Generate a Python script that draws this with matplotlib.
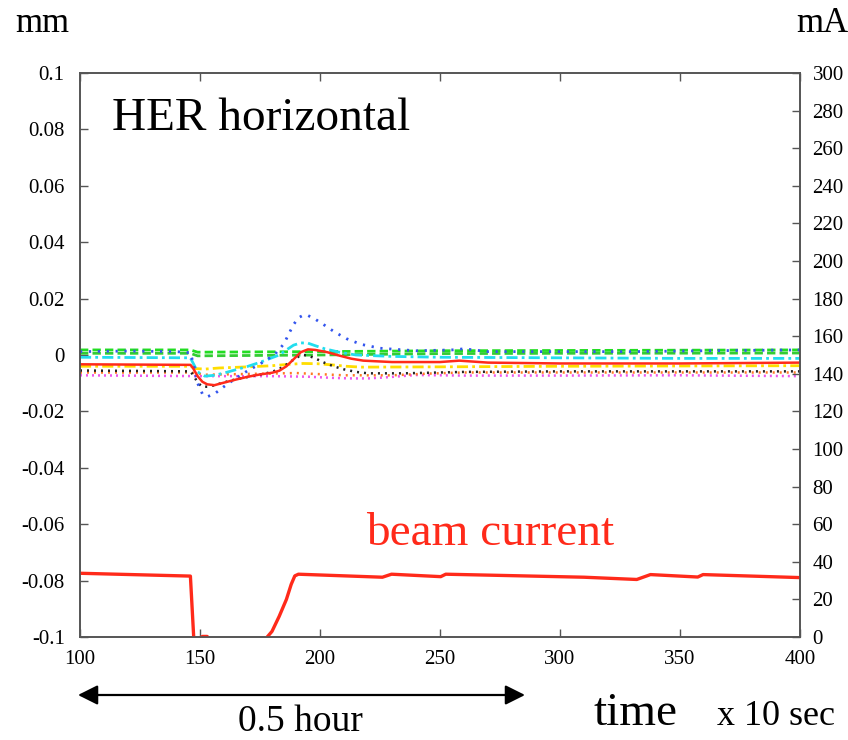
import matplotlib
matplotlib.use('Agg')
import matplotlib.pyplot as plt

plt.rcParams['font.family'] = ['Liberation Serif', 'DejaVu Serif']

# orbit traces, time in units of 10 sec, position in mm
blue_t = [100, 120, 140, 146, 147.5, 149, 151, 153, 156, 160, 165, 170, 175, 179, 182, 185, 187, 189, 191, 193, 195, 198, 202, 206, 211, 217, 225, 240, 255, 260, 270, 300, 330, 360, 400]
blue_y = [0.0012, 0.0014, 0.0012, 0.0008, -0.004, -0.010, -0.0138, -0.0148, -0.0138, -0.0112, -0.0082, -0.0055, -0.0032, -0.001, 0.001, 0.004, 0.0075, 0.0108, 0.0132, 0.0141, 0.014, 0.0127, 0.0105, 0.0082, 0.0058, 0.0038, 0.0024, 0.0015, 0.0018, 0.0022, 0.0012, 0.0012, 0.0012, 0.0015, 0.0018]

green1_t = [100, 146, 149, 200, 250, 300, 400]
green1_y = [0.0018, 0.0018, 0.001, 0.0012, 0.0015, 0.0016, 0.0018]
green2_t = [100, 146, 149, 200, 250, 300, 400]
green2_y = [0.0006, 0.0006, -0.0003, 0.0, 0.0005, 0.0006, 0.0007]

cyan_t = [100, 146, 147.5, 149, 152, 156, 160, 165, 170, 175, 179, 183, 186, 189, 192, 195, 198, 202, 208, 215, 230, 250, 300, 350, 400]
cyan_y = [-0.0008, -0.001, -0.0035, -0.006, -0.0075, -0.0072, -0.0064, -0.0052, -0.004, -0.0026, -0.0013, 0.0, 0.0018, 0.0035, 0.0043, 0.0042, 0.0033, 0.0022, 0.001, 0.0, -0.0005, -0.0008, -0.001, -0.0012, -0.0012]

red_t = [100, 146, 147, 149, 151, 153, 156, 160, 165, 170, 175, 180, 183, 186, 189, 192, 195, 198, 203, 208, 213, 218, 230, 250, 258, 270, 300, 350, 400]
red_y = [-0.0033, -0.0035, -0.0045, -0.0075, -0.0095, -0.0104, -0.0107, -0.0098, -0.0087, -0.0077, -0.0069, -0.0063, -0.0056, -0.004, -0.0015, 0.001, 0.002, 0.0018, 0.001, -0.0002, -0.0013, -0.002, -0.0025, -0.0025, -0.002, -0.0027, -0.003, -0.003, -0.0027]

yellow_t = [100, 146, 148, 152, 158, 170, 180, 187, 193, 199, 205, 211, 217, 250, 300, 400]
yellow_y = [-0.004, -0.004, -0.0048, -0.005, -0.0046, -0.0042, -0.0038, -0.0033, -0.003, -0.0031, -0.0035, -0.004, -0.0043, -0.0042, -0.004, -0.0038]

black_t = [100, 146, 147.5, 149, 151, 154, 158, 163, 168, 173, 178, 182, 185, 188, 191, 193, 195, 198, 202, 206, 210, 215, 220, 235, 260, 300, 350, 400]
black_y = [-0.0055, -0.0058, -0.0075, -0.0098, -0.0113, -0.0112, -0.0102, -0.009, -0.0081, -0.0073, -0.0064, -0.0054, -0.004, -0.0022, -0.0006, 0.0, -0.0002, -0.0012, -0.0028, -0.0041, -0.0051, -0.006, -0.0065, -0.0065, -0.006, -0.0058, -0.0058, -0.0058]

orange_t = [100, 146, 152, 165, 190, 200, 210, 230, 245, 260, 300, 400]
orange_y = [-0.0062, -0.0062, -0.007, -0.0068, -0.0064, -0.0068, -0.0072, -0.0072, -0.0066, -0.0062, -0.0062, -0.0062]

magenta_t = [100, 150, 180, 195, 205, 212, 220, 228, 240, 260, 300, 350, 400]
magenta_y = [-0.0072, -0.0075, -0.0075, -0.0077, -0.0081, -0.0083, -0.0083, -0.0079, -0.0071, -0.0073, -0.0073, -0.0072, -0.0075]

# beam current in mA
beam_t = [100, 146, 147.5, 151, 153, 154, 177, 178, 180, 183, 186, 188, 189.5, 191, 226, 229.8, 250.3, 252.4, 310, 332, 337.7, 357.4, 359.6, 400]
beam_i = [33.9, 32.4, -3, 0.3, 0.3, -3, -3, 0, 3, 11, 20, 28, 32.5, 33.4, 31.8, 33.4, 32.1, 33.4, 31.8, 30.6, 33.2, 31.9, 33.2, 31.6]

xticks = [100, 150, 200, 250, 300, 350, 400]
yticks = [-0.1, -0.08, -0.06, -0.04, -0.02, 0, 0.02, 0.04, 0.06, 0.08, 0.1]
yticklabels = ['-0.1', '-0.08', '-0.06', '-0.04', '-0.02', '0', '0.02', '0.04', '0.06', '0.08', '0.1']
rticks = list(range(0, 301, 20))

fig = plt.figure(figsize=(8.48, 7.4), dpi=100)
ax = fig.add_axes([80 / 848, 103 / 740, 720 / 848, 564 / 740])
ax2 = ax.twinx()

ax.plot(green1_t, green1_y, color='#22dd22', lw=2, dashes=(3, 1.5))
ax.plot(green2_t, green2_y, color='#33cc33', lw=2, dashes=(3, 1.5))
ax.plot(magenta_t, magenta_y, color='#ee55ee', lw=1.8, dashes=(0.8, 1.6))
ax.plot(orange_t, orange_y, color='#ff7722', lw=1.8, dashes=(0.8, 2))
ax.plot(yellow_t, yellow_y, color='#ffdd00', lw=2, dashes=(4, 1.5, 1, 1.5))
ax.plot(black_t, black_y, color='#222222', lw=1.8, dashes=(0.8, 2))
ax.plot(cyan_t, cyan_y, color='#22ddee', lw=2, dashes=(4, 1.5, 1, 1.5))
ax.plot(blue_t, blue_y, color='#3355ee', lw=2, dashes=(0.8, 2.4))
ax.plot(red_t, red_y, color='#ff2a1a', lw=1.8)

ax2.plot(beam_t, beam_i, color='#ff2a1a', lw=2.4)

ax.set_xlim(100, 400)
ax.set_ylim(-0.1, 0.1)
ax2.set_ylim(0, 300)
ax.set_xticks(xticks)
ax.set_xticklabels([str(t) for t in xticks])
ax.set_yticks(yticks)
ax.set_yticklabels(yticklabels)
ax2.set_yticks(rticks)

for a in (ax, ax2):
    for s in a.spines.values():
        s.set_color('#555555')
        s.set_linewidth(1.2)
ax.tick_params(axis='x', direction='in', top=True, length=6, width=1, color='#555555', labelsize=15, pad=9)
ax.tick_params(axis='y', direction='in', right=False, length=6, width=1, color='#555555', labelsize=15, pad=11)
ax2.tick_params(axis='y', direction='in', length=6, width=1, color='#555555', labelsize=15, pad=9)

fig.text(15 / 848, 1 - 32 / 740, 'mm', fontsize=25, va='baseline', ha='left')
fig.text(848 / 848, 1 - 32 / 740, 'mA', fontsize=25, va='baseline', ha='right')
fig.text(112 / 848, 1 - 130 / 740, 'HER horizontal', fontsize=34, va='baseline', ha='left')
fig.text(490 / 848, 1 - 545 / 740, 'beam current', fontsize=34, va='baseline', ha='center', color='#ff2a1a')
fig.text(593 / 848, 1 - 725 / 740, 'time', fontsize=34, va='baseline', ha='left')
fig.text(717 / 848, 1 - 725 / 740, 'x 10 sec', fontsize=26, va='baseline', ha='left')
fig.text(300 / 848, 1 - 731 / 740, '0.5 hour', fontsize=27, va='baseline', ha='center')

ax.annotate('', xy=(525 / 848, 1 - 695 / 740), xytext=(78 / 848, 1 - 695 / 740),
            xycoords='figure fraction', textcoords='figure fraction',
            arrowprops=dict(arrowstyle='<|-|>', color='black', lw=1.6, mutation_scale=30,
                            shrinkA=0, shrinkB=0))

fig.savefig('out.png', dpi=100)
